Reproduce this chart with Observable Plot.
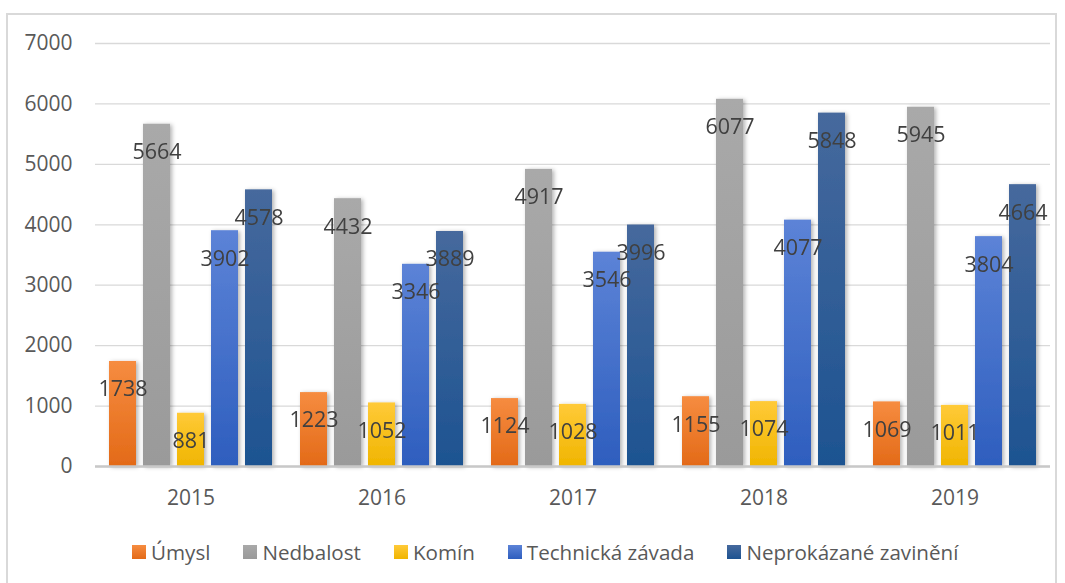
<!DOCTYPE html>
<html>
<head>
<meta charset="utf-8">
<script src="https://cdn.jsdelivr.net/npm/d3@7"></script>
<script src="https://cdn.jsdelivr.net/npm/@observablehq/plot@0.6"></script>
<style>
  html, body { margin: 0; padding: 0; background: #fff; }
  body { width: 1065px; height: 583px; position: relative; overflow: hidden; font-family: "Open Sans", sans-serif; }
  #frame { position: absolute; left: 6px; top: 13px; width: 1051px; height: 600px; border: 2px solid #d9d9d9; box-sizing: border-box; }
  #chart { position: absolute; left: 0; top: 0; }
  #legend { position: absolute; left: 132px; top: 538px; display: flex; align-items: center; gap: 33px; font-size: 20.6px; color: #595959; white-space: nowrap; }
  #legend .item { display: flex; align-items: center; gap: 5px; }
  #legend .sw { width: 14px; height: 14px; }
</style>
</head>
<body>
<div id="frame"></div>
<div id="chart"></div>
<div id="legend"></div>
<script>
const years = ["2015", "2016", "2017", "2018", "2019"];
const series = ["Úmysl", "Nedbalost", "Komín", "Technická závada", "Neprokázané zavinění"];
const umysl = [1738, 1223, 1124, 1155, 1069];
const nedbalost = [5664, 4432, 4917, 6077, 5945];
const komin = [881, 1052, 1028, 1074, 1011];
const technicka = [3902, 3346, 3546, 4077, 3804];
const neprokazane = [4578, 3889, 3996, 5848, 4664];
const yTicks = [0, 1000, 2000, 3000, 4000, 5000, 6000, 7000];

const gradTop = ["#f68c40", "#a9a9a9", "#ffca38", "#5c83d7", "#46699d"];
const gradBottom = ["#e36a18", "#9a9a9a", "#f0b500", "#2e5ebe", "#1d5391"];

const valuesBySeries = [umysl, nedbalost, komin, technicka, neprokazane];
const data = [];
years.forEach((yr, i) => {
  series.forEach((s, j) => {
    data.push({year: yr, series: s, value: valuesBySeries[j][i]});
  });
});

const plot = Plot.plot({
  width: 1065,
  height: 520,
  marginTop: 43,
  marginBottom: 54,
  marginLeft: 95,
  marginRight: 15,
  style: {fontFamily: "Open Sans", fontSize: "21px", background: "transparent", overflow: "visible"},
  fx: {domain: years, padding: 0, label: null},
  x: {domain: series, paddingInner: 0.2, paddingOuter: 0.376, axis: null},
  y: {domain: [0, 7000], label: null},
  color: {domain: series, range: series.map((s, i) => `url(#grad${i})`)},
  marks: [
    Plot.gridY(yTicks, {stroke: "#d9d9d9", strokeOpacity: 1, strokeWidth: 1.3}),
    Plot.axisY(yTicks, {tickSize: 0, tickPadding: 23, fontSize: 21, fill: "#595959", tickFormat: "d", label: null}),
    Plot.axisFx({anchor: "bottom", tickSize: 0, tickPadding: 24, fontSize: 21, fill: "#595959", label: null}),
    Plot.barY(data, {fx: "year", x: "series", y: "value", fill: "series"}),
    Plot.ruleY([0], {stroke: "#c8c8c8", strokeWidth: 2.5}),
    Plot.text(data, {fx: "year", x: "series", y: "value", text: d => String(d.value), dy: 28, fontSize: 21.5, fill: "#404040"})
  ]
});

const svg = d3.select(plot);
const defs = svg.insert("defs", ":first-child");
series.forEach((s, i) => {
  const g = defs.append("linearGradient").attr("id", `grad${i}`).attr("x1", 0).attr("y1", 0).attr("x2", 0).attr("y2", 1);
  g.append("stop").attr("offset", "0%").attr("stop-color", gradTop[i]);
  g.append("stop").attr("offset", "100%").attr("stop-color", gradBottom[i]);
});
const f = defs.append("filter").attr("id", "shadow").attr("x", "-30%").attr("y", "-10%").attr("width", "160%").attr("height", "130%");
f.append("feDropShadow").attr("dx", 2).attr("dy", 1).attr("stdDeviation", 2).attr("flood-color", "#000").attr("flood-opacity", 0.3);
svg.selectAll('g[aria-label="bar"]').attr("filter", "url(#shadow)");
svg.selectAll("text").filter(function () {
  const p = this.closest("g[aria-label]");
  return p && /y-axis/.test(p.getAttribute("aria-label"));
}).attr("font-size", 21).style("font-size", "21px");

document.getElementById("chart").appendChild(plot);

const legend = document.getElementById("legend");
series.forEach((s, i) => {
  const item = document.createElement("div");
  item.className = "item";
  const sw = document.createElement("div");
  sw.className = "sw";
  sw.style.background = `linear-gradient(${gradTop[i]}, ${gradBottom[i]})`;
  const t = document.createElement("span");
  t.textContent = s;
  item.appendChild(sw);
  item.appendChild(t);
  legend.appendChild(item);
});
</script>
</body>
</html>
